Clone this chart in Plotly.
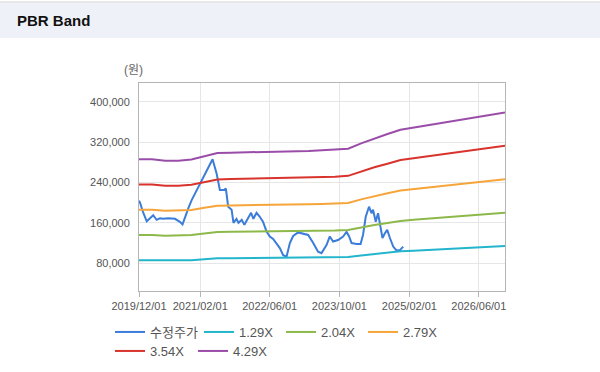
import plotly.graph_objects as go

# ---------------- data ----------------
price_dates = [
    "2019-12-01", "2019-12-08", "2020-01-01", "2020-01-24", "2020-02-16", "2020-03-09", "2020-04-02",
    "2020-04-25", "2020-05-18", "2020-06-22", "2020-08-08", "2020-09-12", "2020-09-30",
    "2020-10-17", "2020-11-10", "2020-12-03", "2021-01-07", "2021-01-31", "2021-02-23",
    "2021-03-21", "2021-04-28", "2021-05-26", "2021-06-18", "2021-07-16", "2021-07-30",
    "2021-08-15", "2021-09-08", "2021-09-21", "2021-10-12", "2021-10-26", "2021-11-18",
    "2021-12-06", "2021-12-30", "2022-01-22", "2022-02-07", "2022-03-01", "2022-03-24",
    "2022-04-16", "2022-05-10", "2022-06-02", "2022-06-25", "2022-07-18", "2022-08-11",
    "2022-09-03", "2022-09-27", "2022-10-20", "2022-11-12", "2022-12-17", "2023-01-21",
    "2023-02-25", "2023-04-01", "2023-05-05", "2023-05-29", "2023-07-03", "2023-07-26",
    "2023-08-18", "2023-09-22", "2023-10-27", "2023-11-20", "2023-12-08", "2023-12-25",
    "2024-01-29", "2024-02-26", "2024-03-14", "2024-04-02", "2024-04-25", "2024-05-12",
    "2024-05-23", "2024-06-11", "2024-06-27", "2024-07-14", "2024-07-28", "2024-08-13",
    "2024-08-30", "2024-09-18", "2024-10-11", "2024-11-04", "2024-11-27", "2024-12-20",
]
price_values = [
    204000, 200000, 179000, 163000, 169000, 175000, 166000,
    169000, 168000, 169000, 168000, 162000, 157000,
    172000, 189000, 205000, 225000, 238000, 251000,
    265000, 286000, 258000, 225000, 225000, 228000,
    192000, 186000, 160000, 168000, 160000, 166000,
    156000, 169000, 180000, 168000, 180000, 172000,
    162000, 143000, 133000, 128000, 120000, 110000,
    96000, 93000, 120000, 134000, 141000, 139000,
    136000, 120000, 103000, 100000, 116000, 133000,
    123000, 126000, 133000, 142000, 133000, 120000,
    118000, 118000, 136000, 172000, 192000, 179000,
    186000, 162000, 179000, 152000, 130000, 139000,
    146000, 130000, 113000, 105000, 106000, 113000,
]

band_dates = [
    "2019-12-01", "2020-03-01", "2020-06-01", "2020-09-01", "2020-12-01", "2021-03-01",
    "2021-06-01", "2021-09-01", "2021-12-01", "2022-03-01", "2022-06-01", "2022-09-01",
    "2022-12-01", "2023-03-01", "2023-06-01", "2023-09-01", "2023-12-01", "2024-03-01",
    "2024-06-01", "2024-09-01", "2024-12-01", "2025-03-01", "2025-06-01", "2025-09-01",
    "2025-12-01", "2026-03-01", "2026-06-01", "2026-09-01", "2026-12-01",
]
band_129 = [86000, 86000, 85100, 85100, 85800, 87700, 89700, 89900, 90000, 90300, 90600, 90600,
            90700, 90900, 91300, 91600, 92200, 95500, 98400, 101000, 103600, 104900, 106200,
            107500, 108700, 110000, 111500, 112700, 113900]
band_204 = [136100, 136100, 134600, 134600, 135700, 138700, 141800, 142200, 142400, 142800, 143200,
            143200, 143400, 143800, 144400, 144800, 145900, 151000, 155700, 159700, 163800, 165900,
            167900, 169900, 172000, 174000, 176300, 178300, 180100]
band_279 = [186100, 186100, 184100, 184100, 185500, 189700, 193900, 194500, 194700, 195300, 195900,
            195900, 196100, 196700, 197500, 198100, 199500, 206500, 212900, 218500, 224000, 226800,
            229600, 232400, 235200, 238000, 241100, 243800, 246400]
band_354 = [236100, 236100, 233600, 233600, 235400, 240700, 246000, 246700, 247100, 247800, 248500,
            248500, 248900, 249600, 250600, 251300, 253100, 262000, 270100, 277200, 284300, 287800,
            291300, 294900, 298400, 302000, 305900, 309400, 312600]
band_429 = [286100, 286100, 283100, 283100, 285300, 291700, 298200, 299000, 299400, 300300, 301200,
            301200, 301600, 302400, 303700, 304600, 306700, 317500, 327300, 335900, 344500, 348800,
            353100, 357400, 361600, 365900, 370700, 374900, 378800]

series_names = ["수정주가", "1.29X", "2.04X", "2.79X", "3.54X", "4.29X"]
series_colors = ["#3b7dd8", "#22b5cc", "#8db84a", "#f5a53a", "#d8332c", "#9a4da8"]
series_legend = ["legend", "legend2", "legend2", "legend2", "legend3", "legend3"]

x_tick_vals = ["2019-12-01", "2021-02-01", "2022-06-01", "2023-10-01", "2025-02-01", "2026-06-01"]
x_tick_text = ["2019/12/01", "2021/02/01", "2022/06/01", "2023/10/01", "2025/02/01", "2026/06/01"]
y_tick_vals = [80000, 160000, 240000, 320000, 400000]
y_tick_text = ["80,000", "160,000", "240,000", "320,000", "400,000"]

# ---------------- figure ----------------
FONT = "Liberation Sans, Noto Sans CJK KR, sans-serif"
L, T, PW, PH = 139, 83, 366, 208   # plot area in px


def px_x(x):
    return (x - L) / PW


def px_y(y):
    return 1 - (y - T) / PH


fig = go.Figure()
all_values = [price_values, band_129, band_204, band_279, band_354, band_429]
for i, (name, color, vals, lg) in enumerate(zip(series_names, series_colors, all_values, series_legend)):
    xs = price_dates if i == 0 else band_dates
    fig.add_trace(go.Scatter(x=xs, y=vals, mode="lines", name=name, legend=lg,
                             line=dict(color=color, width=2)))

legend_common = dict(orientation="h", xanchor="left", yanchor="top",
                     entrywidthmode="pixels",
                     font=dict(family=FONT, size=13, color="#555555"),
                     tracegroupgap=0, itemwidth=30, bgcolor="rgba(0,0,0,0)")

fig.update_layout(
    width=600, height=372,
    margin=dict(l=L, r=600 - L - PW, t=T, b=372 - T - PH, autoexpand=False),
    paper_bgcolor="white", plot_bgcolor="white",
    font=dict(family=FONT, size=11, color="#555555"),
    showlegend=True,
    legend=dict(x=px_x(110), y=px_y(317), entrywidth=60, **legend_common),
    legend2=dict(x=px_x(199), y=px_y(317), entrywidth=37, **legend_common),
    legend3=dict(x=px_x(110), y=px_y(336), entrywidth=38, **legend_common),
    xaxis=dict(type="date", range=["2019-12-01", "2026-12-01"],
               tickvals=x_tick_vals, ticktext=x_tick_text, tickangle=0,
               showgrid=True, gridcolor="#e6e6e6", gridwidth=1,
               showline=True, linecolor="#b5b5b5", linewidth=1, mirror=True,
               ticks="outside", ticklen=5, tickcolor="#b5b5b5",
               tickfont=dict(size=11, color="#555555"), zeroline=False),
    yaxis=dict(range=[25000, 437000], tickvals=y_tick_vals, ticktext=y_tick_text,
               showgrid=True, gridcolor="#e6e6e6", gridwidth=1,
               showline=True, linecolor="#b5b5b5", linewidth=1, mirror=True,
               ticks="outside", ticklen=6, tickcolor="rgba(0,0,0,0)",
               tickfont=dict(size=11, color="#555555"), zeroline=False),
    shapes=[
        dict(type="rect", xref="paper", yref="paper", x0=px_x(-5), x1=px_x(605),
             y0=px_y(38), y1=px_y(3),
             fillcolor="#eef2f8", line=dict(width=0), layer="below"),
        dict(type="line", xref="paper", yref="paper", x0=px_x(-5), x1=px_x(605),
             y0=px_y(2), y1=px_y(2), line=dict(color="#d0d0d0", width=1)),
    ],
    annotations=[
        dict(text="<b>PBR Band</b>", xref="paper", yref="paper",
             x=px_x(15), y=px_y(21), xanchor="left", yanchor="middle",
             showarrow=False, font=dict(family="Liberation Sans, sans-serif", size=15, color="#111111")),
        dict(text="(원)", xref="paper", yref="paper",
             x=px_x(133), y=px_y(70), xanchor="center", yanchor="middle",
             showarrow=False, font=dict(family=FONT, size=12, color="#666666")),
    ],
)

fig.write_html("out.html", config={"displayModeBar": False},
               post_script="document.body.style.margin='0';document.body.style.overflow='hidden';")
